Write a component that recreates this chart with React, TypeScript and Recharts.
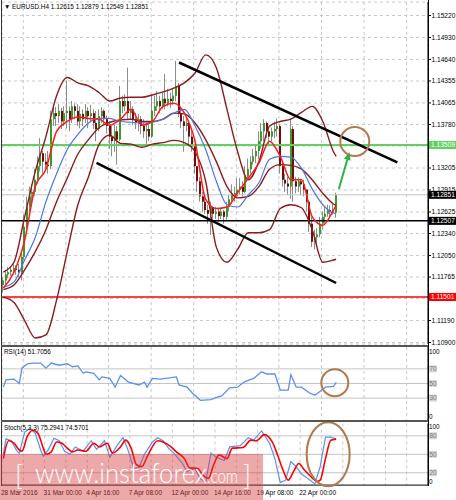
import React from "react";
import { ComposedChart, Bar, Line, XAxis, YAxis, CartesianGrid, ReferenceLine, ReferenceDot } from "recharts";

const FONT = "'Liberation Sans', Arial, sans-serif";

// EURUSD H4 candles, bar 0 = 28 Mar 2016
const opens = [
  1.1166, 1.1172, 1.1180, 1.1183, 1.1186, 1.1188, 1.1186, 1.1183, 1.1203, 1.1243,
  1.1269, 1.1283, 1.1289, 1.1305, 1.1323, 1.1340, 1.1329, 1.1325, 1.1323, 1.1385,
  1.1393, 1.1389, 1.1396, 1.1382, 1.1393, 1.1396, 1.1385, 1.1402, 1.1396, 1.1382,
  1.1392, 1.1385, 1.1396, 1.1389, 1.1393, 1.1380, 1.1372, 1.1389, 1.1396, 1.1385,
  1.1376, 1.1362, 1.1356, 1.1369, 1.1358, 1.1409, 1.1402, 1.1409, 1.1393, 1.1398,
  1.1385, 1.1380, 1.1385, 1.1376, 1.1369, 1.1372, 1.1362, 1.1396, 1.1402, 1.1409,
  1.1402, 1.1412, 1.1406, 1.1412, 1.1409, 1.1416, 1.1429, 1.1392, 1.1382, 1.1376,
  1.1380, 1.1362, 1.1349, 1.1323, 1.1303, 1.1283, 1.1276, 1.1265, 1.1260, 1.1269,
  1.1260, 1.1263, 1.1257, 1.1263, 1.1256, 1.1269, 1.1279, 1.1287, 1.1283, 1.1292,
  1.1296, 1.1289, 1.1309, 1.1319, 1.1329, 1.1336, 1.1343, 1.1356, 1.1369, 1.1380,
  1.1369, 1.1362, 1.1369, 1.1372, 1.1376, 1.1323, 1.1305, 1.1300, 1.1296, 1.1372,
  1.1303, 1.1296, 1.1303, 1.1299, 1.1292, 1.1276, 1.1247, 1.1223, 1.1229, 1.1233,
  1.1247, 1.1256, 1.1260, 1.1265, 1.1263, 1.12615,
];
const highs = [
  1.1176, 1.1186, 1.1190, 1.1191, 1.1194, 1.1192, 1.1194, 1.1210, 1.1259, 1.1283,
  1.1296, 1.1299, 1.1319, 1.1336, 1.1360, 1.1343, 1.1340, 1.1343, 1.1396, 1.1402,
  1.1401, 1.1405, 1.1400, 1.1402, 1.1436, 1.1402, 1.1409, 1.1406, 1.1405, 1.1402,
  1.1398, 1.1405, 1.1401, 1.1404, 1.1398, 1.1396, 1.1398, 1.1401, 1.1398, 1.1390,
  1.1382, 1.1376, 1.1378, 1.1376, 1.1429, 1.1416, 1.1418, 1.1453, 1.1409, 1.1402,
  1.1393, 1.1392, 1.1389, 1.1385, 1.1382, 1.1380, 1.1418, 1.1416, 1.1422, 1.1416,
  1.1420, 1.1445, 1.1425, 1.1420, 1.1425, 1.1462, 1.1433, 1.1400, 1.1389, 1.1386,
  1.1382, 1.1369, 1.1352, 1.1323, 1.1309, 1.1289, 1.1283, 1.1272, 1.1276, 1.1269,
  1.1269, 1.1267, 1.1268, 1.1265, 1.1276, 1.1285, 1.1299, 1.1296, 1.1307, 1.1307,
  1.1303, 1.1323, 1.1333, 1.1336, 1.1346, 1.1352, 1.1369, 1.1380, 1.1385, 1.1382,
  1.1373, 1.1374, 1.1382, 1.1386, 1.1378, 1.1329, 1.1313, 1.1309, 1.1386, 1.1376,
  1.1309, 1.1308, 1.1306, 1.1305, 1.1292, 1.1278, 1.1256, 1.1239, 1.1241, 1.1256,
  1.1263, 1.1269, 1.1272, 1.1271, 1.1273, 1.12879,
];
const lows = [
  1.1156, 1.1167, 1.1175, 1.1178, 1.1180, 1.1179, 1.1176, 1.1172, 1.1199, 1.1239,
  1.1263, 1.1276, 1.1283, 1.1300, 1.1316, 1.1313, 1.1316, 1.1313, 1.1319, 1.1376,
  1.1376, 1.1380, 1.1372, 1.1376, 1.1373, 1.1369, 1.1380, 1.1385, 1.1376, 1.1373,
  1.1376, 1.1380, 1.1373, 1.1382, 1.1372, 1.1356, 1.1369, 1.1380, 1.1377, 1.1366,
  1.1346, 1.1336, 1.1342, 1.1325, 1.1356, 1.1393, 1.1396, 1.1386, 1.1385, 1.1377,
  1.1372, 1.1369, 1.1365, 1.1360, 1.1352, 1.1356, 1.1360, 1.1389, 1.1396, 1.1393,
  1.1398, 1.1398, 1.1402, 1.1400, 1.1404, 1.1409, 1.1388, 1.1373, 1.1342, 1.1369,
  1.1352, 1.1342, 1.1313, 1.1289, 1.1276, 1.1263, 1.1260, 1.1247, 1.1232, 1.1252,
  1.1253, 1.1249, 1.1253, 1.1247, 1.1252, 1.1263, 1.1273, 1.1276, 1.1280, 1.1285,
  1.1283, 1.1287, 1.1305, 1.1313, 1.1325, 1.1327, 1.1332, 1.1346, 1.1356, 1.1360,
  1.1352, 1.1356, 1.1360, 1.1362, 1.1313, 1.1296, 1.1289, 1.1285, 1.1280, 1.1276,
  1.1287, 1.1289, 1.1285, 1.1283, 1.1263, 1.1236, 1.1216, 1.1213, 1.1219, 1.1229,
  1.1239, 1.1247, 1.1256, 1.1255, 1.1259, 1.12549,
];
const closes = [
  1.1172, 1.1180, 1.1183, 1.1186, 1.1188, 1.1186, 1.1183, 1.1203, 1.1243, 1.1269,
  1.1283, 1.1289, 1.1305, 1.1323, 1.1340, 1.1329, 1.1325, 1.1323, 1.1385, 1.1393,
  1.1389, 1.1396, 1.1382, 1.1393, 1.1396, 1.1385, 1.1402, 1.1396, 1.1382, 1.1392,
  1.1385, 1.1396, 1.1389, 1.1393, 1.1380, 1.1372, 1.1389, 1.1396, 1.1385, 1.1376,
  1.1362, 1.1356, 1.1369, 1.1358, 1.1409, 1.1402, 1.1409, 1.1393, 1.1398, 1.1385,
  1.1380, 1.1385, 1.1376, 1.1369, 1.1372, 1.1362, 1.1396, 1.1402, 1.1409, 1.1402,
  1.1412, 1.1406, 1.1412, 1.1409, 1.1416, 1.1429, 1.1392, 1.1382, 1.1376, 1.1380,
  1.1362, 1.1349, 1.1323, 1.1303, 1.1283, 1.1276, 1.1265, 1.1260, 1.1269, 1.1260,
  1.1263, 1.1257, 1.1263, 1.1256, 1.1269, 1.1279, 1.1287, 1.1283, 1.1292, 1.1296,
  1.1289, 1.1309, 1.1319, 1.1329, 1.1336, 1.1343, 1.1356, 1.1369, 1.1380, 1.1369,
  1.1362, 1.1369, 1.1372, 1.1376, 1.1323, 1.1305, 1.1300, 1.1296, 1.1372, 1.1303,
  1.1296, 1.1303, 1.1299, 1.1292, 1.1276, 1.1247, 1.1223, 1.1229, 1.1233, 1.1247,
  1.1256, 1.1260, 1.1265, 1.1263, 1.1262, 1.12851,
];

// indicator readings, every 4th bar
const maIdx = [0, 4, 8, 12, 16, 20, 24, 28, 32, 36, 40, 44, 48, 52, 56, 60, 64, 68, 72, 76, 80, 84, 88, 92, 96, 100, 104, 108, 112, 116, 120, 124, 125];
const bbUpper = [1.1183, 1.1196, 1.1256, 1.1316, 1.1362, 1.1416, 1.1440, 1.1433, 1.1429, 1.1420, 1.1409, 1.1413, 1.1414, 1.1414, 1.1417, 1.1421, 1.1426, 1.1433, 1.1446, 1.1470, 1.1453, 1.1398, 1.1342, 1.1305, 1.1329, 1.1376, 1.1382, 1.1385, 1.1394, 1.1402, 1.1382, 1.1342, 1.1336];
const bbMid = [1.1160, 1.1166, 1.1186, 1.1210, 1.1239, 1.1276, 1.1307, 1.1339, 1.1358, 1.1374, 1.1381, 1.1384, 1.1385, 1.1382, 1.1382, 1.1385, 1.1393, 1.1392, 1.1380, 1.1358, 1.1329, 1.1296, 1.1281, 1.1283, 1.1296, 1.1319, 1.1325, 1.1324, 1.1319, 1.1305, 1.1287, 1.1273, 1.1271];
const bbLower = [1.1150, 1.1143, 1.1119, 1.1096, 1.1100, 1.1146, 1.1210, 1.1272, 1.1309, 1.1352, 1.1364, 1.1353, 1.1352, 1.1348, 1.1352, 1.1354, 1.1357, 1.1354, 1.1342, 1.1303, 1.1216, 1.1196, 1.1213, 1.1235, 1.1235, 1.1239, 1.1267, 1.1272, 1.1268, 1.1239, 1.1196, 1.1199, 1.1200];
const fastMa = [1.1162, 1.1183, 1.1225, 1.1296, 1.1319, 1.1369, 1.1382, 1.1388, 1.1386, 1.1385, 1.1377, 1.1385, 1.1398, 1.1377, 1.1382, 1.1402, 1.1406, 1.1393, 1.1356, 1.1279, 1.1267, 1.1269, 1.1288, 1.1307, 1.1327, 1.1356, 1.1336, 1.1305, 1.1305, 1.1256, 1.1245, 1.1265, 1.1271];
const slowMa = [1.1163, 1.1170, 1.1199, 1.1229, 1.1276, 1.1313, 1.1345, 1.1365, 1.1380, 1.1386, 1.1386, 1.1382, 1.1381, 1.1380, 1.1381, 1.1385, 1.1393, 1.1398, 1.1376, 1.1345, 1.1303, 1.1272, 1.1269, 1.1285, 1.1301, 1.1332, 1.1336, 1.1335, 1.1320, 1.1293, 1.1272, 1.1261, 1.1260];

const rsiIdx = [0, 1, 4, 6, 7, 9, 11, 14, 16, 18, 21, 24, 26, 28, 30, 31, 34, 36, 37, 40, 42, 44, 47, 51, 53, 54, 56, 59, 61, 65, 66, 69, 71, 74, 78, 80, 82, 85, 88, 90, 91, 94, 97, 99, 102, 104, 107, 108, 110, 112, 115, 117, 120, 121, 124, 125];
const rsiVal = [45, 55, 56, 50, 71, 77, 78, 78, 71, 78, 75, 77, 73, 74, 64, 66, 64, 55, 59, 57, 45, 61, 52, 48, 52, 45, 57, 56, 57, 59, 48, 45, 37, 27, 28, 31, 33, 44, 45, 51, 53, 57, 66, 63, 63, 41, 41, 62, 45, 45, 37, 34, 42, 45, 46, 51.7056];

const stochKIdx = [0, 1, 3, 5, 6, 8, 10, 12, 14, 15, 17, 19, 21, 23, 25, 27, 30, 33, 35, 38, 40, 43, 45, 47, 49, 51, 53, 56, 58, 60, 62, 64, 67, 69, 72, 74, 76, 78, 80, 83, 85, 89, 92, 94, 97, 100, 102, 104, 106, 108, 110, 112, 114, 117, 119, 121, 123, 125];
const stochK = [50, 75, 72, 56, 52, 86, 92, 84, 57, 47, 58, 76, 72, 55, 50, 62, 55, 72, 58, 72, 45, 66, 77, 55, 27, 29, 50, 70, 77, 72, 60, 52, 37, 22, 27, 10, 5, 52, 45, 40, 62, 64, 77, 73, 88, 68, 43, 4, 8, 38, 30, 18, 12, 2, 30, 78, 78, 75.2941];
const stochDIdx = [0, 2, 4, 6, 7, 9, 11, 13, 15, 16, 18, 20, 22, 24, 26, 28, 31, 34, 36, 39, 41, 44, 46, 48, 50, 52, 54, 58, 60, 63, 65, 68, 70, 73, 75, 77, 79, 81, 84, 86, 90, 93, 95, 98, 101, 103, 105, 107, 109, 111, 113, 115, 118, 119, 121, 123, 125];
const stochD = [43, 72, 68, 57, 55, 79, 89, 84, 60, 50, 54, 70, 68, 60, 54, 57, 55, 68, 62, 68, 52, 62, 73, 60, 33, 30, 46, 72, 70, 62, 54, 43, 28, 27, 16, 11, 33, 49, 43, 60, 61, 73, 72, 82, 70, 49, 25, 8, 22, 35, 25, 16, 6, 8, 43, 73, 74.5701];

const priceTicks = [1.1522, 1.1493, 1.1464, 1.14355, 1.14065, 1.1378, 1.13495, 1.13205, 1.12915, 1.12625, 1.1234, 1.1205, 1.11765, 1.1148, 1.1119, 1.109];
const coveredTicks = [1.13495, 1.1148];
const gridBars = [7.5, 15.5, 23.5, 31.5, 39.5, 47.5, 55.5, 63.5, 71.5, 79.5, 87.5, 95.5, 103.5, 111.5, 119.5, 127.5, 135.5, 143.5, 151.5];
const labelBars = [-0.5, 15.5, 31.5, 47.5, 63.5, 79.5, 95.5, 111.5];
const xLabels = ["28 Mar 2016", "31 Mar 00:00", "4 Apr 16:00", "7 Apr 08:00", "12 Apr 00:00", "14 Apr 16:00", "19 Apr 08:00", "22 Apr 00:00"];
const rsiLevels = [30, 50, 70];
const stochLevels = [20, 50, 80];

const resistance = 1.13509;
const support = 1.12507;
const bottomLevel = 1.11501;
const bid = 1.12851;
const upperTrend = [{ x: 66, y: 1.14599 }, { x: 148, y: 1.13279 }];
const lowerTrend = [{ x: 35, y: 1.13272 }, { x: 125, y: 1.11686 }];
const arrowSeg = [{ x: 126, y: 1.12928 }, { x: 130, y: 1.13417 }];
const target = { x: 132, y: 1.13556 };

const BULL = "#3c9a2c";
const BEAR = "#730d0d";
const WICK = "#8c8c8c";
const BAND = "#8b1c1c";
const GREEN = "#62d162";
const BROWN = "#b07a4f";
const BLUE = "#5b8ff2";

const rows: any[] = closes.map((c, i) => ({ i, open: opens[i], high: highs[i], low: lows[i], close: c }));
maIdx.forEach((b, k) => Object.assign(rows[b], { upper: bbUpper[k], mid: bbMid[k], lower: bbLower[k], fast: fastMa[k], slow: slowMa[k] }));

const rsiRows = rsiIdx.map((i, k) => ({ i, rsi: rsiVal[k] }));
const stochRows = Array.from(new Set([...stochKIdx, ...stochDIdx]))
  .sort((a, b) => a - b)
  .map((i) => {
    const a = stochKIdx.indexOf(i);
    const b = stochDIdx.indexOf(i);
    return { i, k: a >= 0 ? stochK[a] : null, d: b >= 0 ? stochD[b] : null };
  });

function Candle(p: any) {
  const { x, y, width, height, payload } = p;
  if (!payload || height == null || isNaN(y)) return null;
  const { open, close, high, low } = payload;
  const span = high - low || 1e-9;
  const toY = (v: number) => y + ((high - v) / span) * height;
  const c = Math.round(x + width / 2);
  const top = toY(Math.max(open, close));
  const bot = toY(Math.min(open, close));
  return (
    <g>
      <line x1={c - 0.5} x2={c - 0.5} y1={y} y2={y + height} stroke={WICK} strokeWidth={1} />
      <rect x={c - 1} y={top} width={2} height={Math.max(bot - top, 1)} fill={close >= open ? BULL : BEAR} />
    </g>
  );
}

function PriceTick(p: any) {
  const v = p.payload.value;
  if (coveredTicks.includes(v)) return <g />;
  return (
    <g>
      <line x1={p.x} x2={p.x + 3} y1={p.y} y2={p.y} stroke="#000" />
      <text x={p.x + 3.5} y={p.y + 2.3} fontSize={6.6} fontFamily={FONT} fill="#000">
        {v.toFixed(5)}
      </text>
    </g>
  );
}

function DateTick(p: any) {
  const k = labelBars.indexOf(p.payload.value);
  if (k < 0) return <g />;
  return (
    <text x={p.x - 1} y={p.y + 9.5} fontSize={6.5} fontFamily={FONT} fill="#000" textAnchor="start">
      {xLabels[k]}
    </text>
  );
}

const levelTick = (levels: number[], topShift: number, botShift: number) => (p: any) => {
  const v = p.payload.value;
  const cy = p.y + (v === 100 ? topShift : v === 0 ? botShift : 0);
  if (!levels.includes(v)) {
    return (
      <text x={p.x + 1} y={cy + 2.2} fontSize={6.4} fontFamily={FONT} fill="#000">
        {v}
      </text>
    );
  }
  return (
    <g>
      <rect x={p.x} y={cy - 3.5} width={9} height={7} fill="#d6d6d6" />
      <text x={p.x + 1.5} y={cy + 2.2} fontSize={6.4} fontFamily={FONT} fill="#7a7a7a">
        {v}
      </text>
    </g>
  );
};

const tag = (bg: string, text: string) => (p: any) => {
  const vb = p.viewBox || {};
  const x = (vb.x ?? 0) + (vb.width ?? 0);
  const y = vb.y ?? 0;
  return (
    <g>
      <rect x={x + 1} y={y - 4} width={27} height={8} fill={bg} />
      <text x={x + 3} y={y + 2.4} fontSize={6.6} fontFamily={FONT} fill="#fff">
        {text}
      </text>
    </g>
  );
};

function Arrow(p: any) {
  const { x1, y1, x2, y2 } = p;
  const ang = Math.atan2(y2 - y1, x2 - x1);
  const bx = x2 - 8 * Math.cos(ang);
  const by = y2 - 8 * Math.sin(ang);
  const nx = -Math.sin(ang) * 3.5;
  const ny = Math.cos(ang) * 3.5;
  return (
    <g>
      <line x1={x1} y1={y1} x2={bx} y2={by} stroke="#28b444" strokeWidth={2} />
      <polygon points={`${x2},${y2} ${bx + nx},${by + ny} ${bx - nx},${by - ny}`} fill="#28b444" />
    </g>
  );
}

const xDomain = [-0.5, 159.5];
const gridStyle = { stroke: "#c8c8c8", strokeDasharray: "3 3" };

export default function App() {
  const hline = (x: number, y: number, w: number, h: number, bg: string) => (
    <div style={{ position: "absolute", left: x, top: y, width: w, height: h, background: bg }} />
  );
  const title = (text: string, top: number) => (
    <div style={{ position: "absolute", left: 4, top, fontSize: 6.4, lineHeight: "8px", whiteSpace: "nowrap", color: "#000", fontFamily: FONT }}>
      {text}
    </div>
  );
  return (
    <div style={{ position: "relative", width: 456, height: 500, background: "#fff", overflow: "hidden", fontFamily: FONT }}>
      <style>{"body{margin:0}"}</style>
      <div style={{ position: "absolute", left: 0, top: 0 }}>
        <ComposedChart width={456} height={345} data={rows} margin={{ top: 2, right: 0, bottom: 1, left: 2 }}>
          <CartesianGrid {...gridStyle} />
          <XAxis dataKey="i" type="number" domain={xDomain} ticks={gridBars} hide height={0} allowDataOverflow />
          <YAxis
            orientation="right"
            width={28}
            domain={[1.108802, 1.153983]}
            ticks={priceTicks}
            interval={0}
            allowDataOverflow
            tick={<PriceTick />}
            tickSize={0}
            tickMargin={0}
            tickLine={false}
            axisLine={{ stroke: "#000" }}
          />
          <ReferenceLine y={bid} stroke="#c4c4c4" strokeWidth={1} label={tag("#000", "1.12851")} />
          <ReferenceLine y={resistance} stroke={GREEN} strokeWidth={2} label={tag(GREEN, "1.13509")} />
          <ReferenceLine y={support} stroke="#000" strokeWidth={1.5} label={tag("#000", "1.12507")} />
          <ReferenceLine y={bottomLevel} stroke="#ff0000" strokeWidth={1.5} label={tag("#ff0000", "1.11501")} />
          <Bar dataKey={(d: any) => [d.low, d.high]} shape={Candle} barSize={2} isAnimationActive={false} />
          <Line dataKey="upper" type="monotone" stroke={BAND} strokeWidth={1.4} dot={false} connectNulls isAnimationActive={false} />
          <Line dataKey="mid" type="monotone" stroke={BAND} strokeWidth={1.4} dot={false} connectNulls isAnimationActive={false} />
          <Line dataKey="lower" type="monotone" stroke={BAND} strokeWidth={1.4} dot={false} connectNulls isAnimationActive={false} />
          <Line dataKey="slow" type="monotone" stroke="#4a78e6" strokeWidth={1.2} dot={false} connectNulls isAnimationActive={false} />
          <Line dataKey="fast" type="monotone" stroke="#ff1a1a" strokeWidth={1.5} dot={false} connectNulls isAnimationActive={false} />
          <ReferenceLine segment={upperTrend} stroke="#000" strokeWidth={2.5} />
          <ReferenceLine segment={lowerTrend} stroke="#000" strokeWidth={2.5} />
          <ReferenceLine segment={arrowSeg} shape={Arrow} />
          <ReferenceDot x={target.x} y={target.y} r={14.5} fill="none" stroke={BROWN} strokeWidth={2} />
        </ComposedChart>
      </div>

      <div style={{ position: "absolute", left: 0, top: 347 }}>
        <ComposedChart width={456} height={73} data={rsiRows} margin={{ top: 0, right: 0, bottom: 0, left: 2 }}>
          <CartesianGrid {...gridStyle} horizontal={false} />
          <XAxis dataKey="i" type="number" domain={xDomain} ticks={gridBars} hide height={0} allowDataOverflow />
          <YAxis
            orientation="right"
            width={28}
            domain={[0, 100]}
            ticks={[0, 30, 50, 70, 100]}
            interval={0}
            tick={levelTick(rsiLevels, 4.7, -3.6)}
            tickSize={0}
            tickMargin={0}
            tickLine={false}
            axisLine={{ stroke: "#000" }}
          />
          {rsiLevels.map((v) => (
            <ReferenceLine key={v} y={v} stroke="#c4c4c4" />
          ))}
          <Line dataKey="rsi" type="linear" stroke={BLUE} strokeWidth={1.3} dot={false} connectNulls isAnimationActive={false} />
          <ReferenceDot x={124.5} y={51} r={13.5} fill="none" stroke={BROWN} strokeWidth={2} />
        </ComposedChart>
      </div>

      <div style={{ position: "absolute", left: 0, top: 422 }}>
        <ComposedChart width={456} height={78} data={stochRows} margin={{ top: 1.5, right: 0, bottom: 0, left: 2 }}>
          <CartesianGrid {...gridStyle} horizontal={false} />
          <XAxis
            dataKey="i"
            type="number"
            domain={xDomain}
            ticks={[-0.5, ...gridBars]}
            interval={0}
            height={14.9}
            allowDataOverflow
            tickSize={0}
            tickMargin={0}
            tickLine={false}
            axisLine={{ stroke: "#000" }}
            tick={<DateTick />}
          />
          <YAxis
            orientation="right"
            width={28}
            domain={[0, 100]}
            ticks={[0, 20, 50, 80, 100]}
            interval={0}
            tick={levelTick(stochLevels, 3.2, -3.4)}
            tickSize={0}
            tickMargin={0}
            tickLine={false}
            axisLine={{ stroke: "#000" }}
          />
          {stochLevels.map((v) => (
            <ReferenceLine key={v} y={v} stroke="#c4c4c4" />
          ))}
          <Line dataKey="k" type="linear" stroke={BLUE} strokeWidth={1.2} dot={false} connectNulls isAnimationActive={false} />
          <Line dataKey="d" type="monotone" stroke="#ff0000" strokeWidth={1.6} dot={false} connectNulls isAnimationActive={false} />
          <ReferenceDot
            x={122}
            y={50}
            shape={(p: any) => <ellipse cx={p.cx} cy={p.cy} rx={21.5} ry={32} fill="none" stroke={BROWN} strokeWidth={2} />}
          />
        </ComposedChart>
      </div>

      {hline(1, 0, 1, 486, "#333")}
      {hline(1, 345, 428, 2, "#555")}
      {hline(1, 420, 428, 2, "#555")}
      {hline(428, 0, 1, 486, "#000")}

      {title("\u25BC EURUSD.H4  1.12615 1.12879 1.12549 1.12851", 3)}
      {title("RSI(14) 51.7056", 348)}
      {title("Stoch(5,3,3) 75.2941 74.5701", 424)}

      <svg style={{ position: "absolute", left: 0, top: 454 }} width={263} height={46}>
        <rect x={0} y={0} width={263} height={46} fill="rgba(214,64,64,0.45)" />
        <g fill="#fff" fontFamily="Lato, 'Open Sans', sans-serif" fontWeight={300}>
          <text x={15} y={31} fontSize={27}>[</text>
          <text x={35} y={29} fontSize={28} textLength={172} lengthAdjust="spacingAndGlyphs">www.instaforex</text>
          <text x={207} y={29} fontSize={19} textLength={31} lengthAdjust="spacingAndGlyphs">.com</text>
          <text x={243} y={31} fontSize={27}>]</text>
        </g>
      </svg>
    </div>
  );
}
